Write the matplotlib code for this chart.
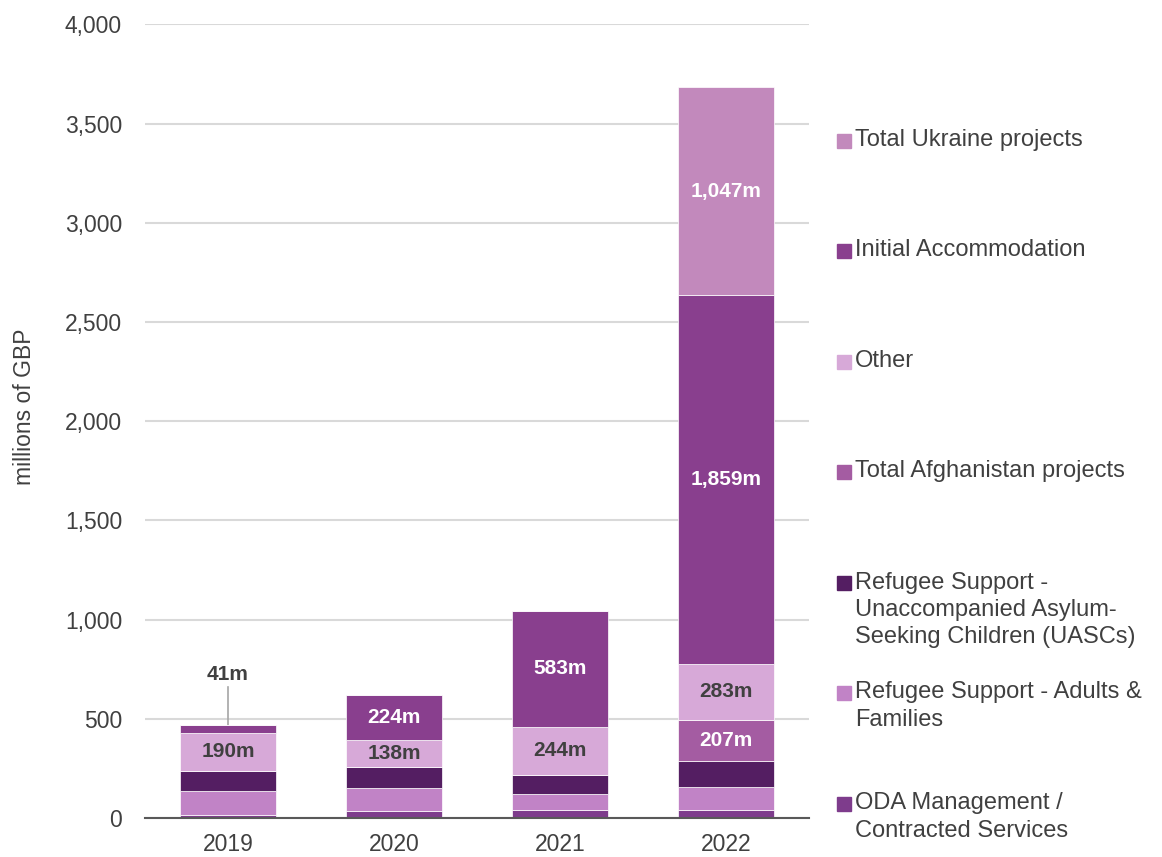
import numpy as np
import matplotlib
matplotlib.use("Agg")
from matplotlib import pyplot as plt
from matplotlib.patches import Rectangle

plt.rcParams["font.family"] = ["Liberation Sans", "DejaVu Sans"]

years = ["2019", "2020", "2021", "2022"]

# stacked from the bottom up
oda = [15, 34, 42, 42]
adults_families = [121, 119, 78, 114]
uasc = [102, 104, 97, 131]
afghanistan = [0, 0, 0, 207]
other = [190, 138, 244, 283]
initial_accommodation = [41, 224, 583, 1859]
ukraine = [0, 0, 0, 1047]

series = [
    ("ODA Management /\nContracted Services", oda, "#7E3C8C"),
    ("Refugee Support - Adults &\nFamilies", adults_families, "#C183C6"),
    ("Refugee Support -\nUnaccompanied Asylum-\nSeeking Children (UASCs)", uasc, "#541E62"),
    ("Total Afghanistan projects", afghanistan, "#A45CA2"),
    ("Other", other, "#D7A9D8"),
    ("Initial Accommodation", initial_accommodation, "#893F8E"),
    ("Total Ukraine projects", ukraine, "#C289BC"),
]

# which segments get a value label, and the label colour
labelled = {"Other": "#404040", "Initial Accommodation": "white",
            "Total Afghanistan projects": "white", "Total Ukraine projects": "white"}

fig = plt.figure(figsize=(11.62, 8.57), dpi=100)
ax = fig.add_axes([145 / 1162, 1 - 818 / 857, 664 / 1162, (818 - 24.3) / 857])

x = np.arange(len(years))
bottom = np.zeros(len(years))
for name, vals, col in series:
    vals = np.array(vals, dtype=float)
    ax.bar(x, vals, 0.584, bottom=bottom, color=col, edgecolor="white", linewidth=0.5, zorder=3)
    if name in labelled:
        for i, v in enumerate(vals):
            if v <= 0:
                continue
            if name == "Initial Accommodation" and i == 0:
                # small segment: callout above the bar
                top = bottom[i] + v
                ax.plot([x[i], x[i]], [top, top + 190], color="#A6A6A6", lw=1.2, zorder=2)
                ax.text(x[i], top + 255, f"{int(v):,}m", ha="center", va="center",
                        fontsize=15, fontweight="bold", color="#404040")
                continue
            ax.text(x[i], bottom[i] + v / 2, f"{int(v):,}m", ha="center", va="center",
                    fontsize=15, fontweight="bold", color=labelled[name], zorder=4)
    bottom += vals

ax.set_xlim(-0.5, 3.5)
ax.set_ylim(0, 4000)
ax.set_yticks(np.arange(0, 4001, 500))
ax.yaxis.set_major_formatter(matplotlib.ticker.FuncFormatter(lambda v, p: f"{int(v):,}"))
ax.set_xticks(x)
ax.set_xticklabels(years)
ax.tick_params(axis="both", length=0, labelsize=16.5, colors="#404040")
ax.tick_params(axis="x", pad=11)
ax.tick_params(axis="y", pad=16.5)
ax.grid(axis="y", color="#D9D9D9", lw=1.5, zorder=0)
for s in ["top", "right", "left"]:
    ax.spines[s].set_visible(False)
ax.spines["bottom"].set_color("#595959")
ax.spines["bottom"].set_linewidth(1.5)
ax.spines["bottom"].set_zorder(5)
fig.text(25 / 1162, 1 - 407 / 857, "millions of GBP", rotation=90, ha="center", va="center",
         fontsize=16.5, color="#404040")

# legend, drawn by hand to keep Excel's uneven spacing
legend_y = [817, 706, 610, 471, 361, 250, 140]  # centre of each entry in pixels
for (name, vals, col), py in zip(series, legend_y):
    nlines = name.count("\n") + 1
    ytop = py - (nlines - 1) * 14
    fig.patches.append(Rectangle((837 / 1162, 1 - (ytop + 8) / 857), 14 / 1162, 14 / 857,
                                 transform=fig.transFigure, color=col))
    fig.text(855 / 1162, 1 - py / 857, name, ha="left", va="center", fontsize=17,
             color="#404040", linespacing=1.3)

fig.savefig("out.png", dpi=100)
